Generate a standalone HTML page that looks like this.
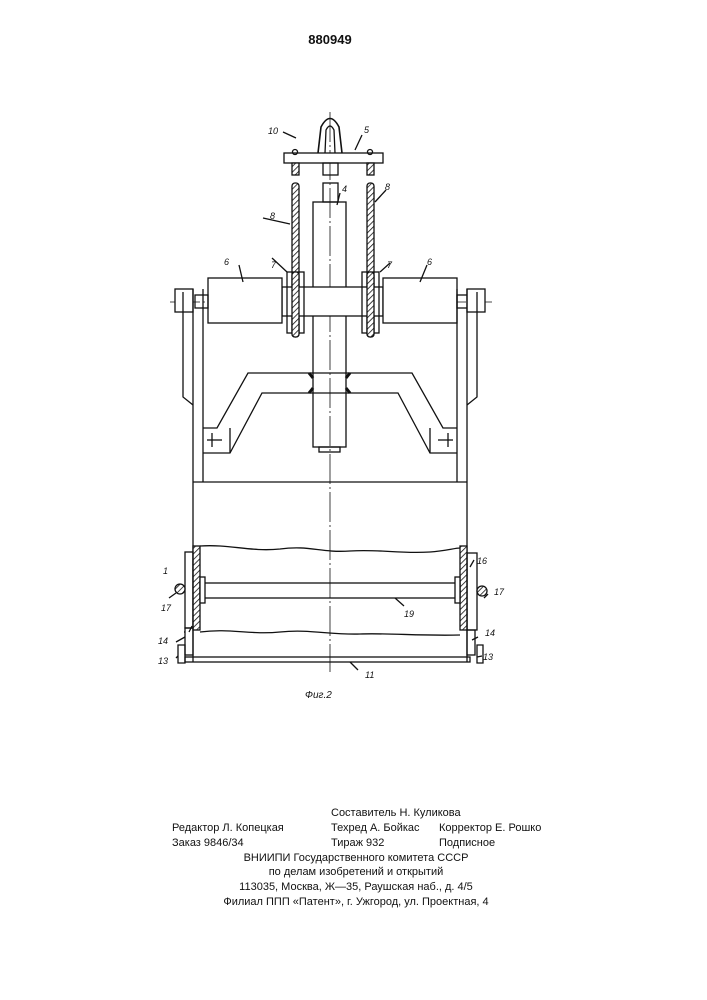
<!DOCTYPE html>
<html><head><meta charset="utf-8"><style>
html,body{margin:0;padding:0;background:#fff;}
svg{display:block}
text{font-family:"Liberation Sans","DejaVu Sans",sans-serif;fill:#111}
</style></head><body>
<svg width="707" height="1000" viewBox="0 0 707 1000" xmlns="http://www.w3.org/2000/svg">
<defs>
<pattern id="h" width="4" height="4" patternUnits="userSpaceOnUse" patternTransform="rotate(45)">
<rect width="4" height="4" fill="#fff"/><line x1="0" y1="0" x2="0" y2="4" stroke="#111" stroke-width="1.6"/></pattern>
</defs>
<text x="330" y="44" font-size="13" font-weight="bold" text-anchor="middle">880949</text>
<g fill="none" stroke="#111" stroke-width="1.3">
<!-- center lines -->
<line x1="330" y1="112" x2="330" y2="672" stroke-width="0.8" stroke-dasharray="30 3 2 3"/>
<line x1="170" y1="302" x2="492" y2="302" stroke-width="0.8" stroke-dasharray="30 3 2 3"/>
<!-- hook -->
<path d="M318,153 L321,127 Q330,110 339,127 L342,153" stroke-width="1.6"/>
<path d="M325,153 L326,130 Q330,122 334,130 L335,153"/>
<rect x="284" y="153" width="99" height="10" fill="#fff"/>
<circle cx="295" cy="152" r="2.5"/><circle cx="370" cy="152" r="2.5"/>
<!-- top rods -->
<rect x="323" y="163" width="15" height="12"/>
<rect x="323" y="183" width="15" height="19"/>
<!-- cables -->
<rect x="292" y="163" width="7" height="12" fill="url(#h)"/>
<rect x="367" y="163" width="7" height="12" fill="url(#h)"/>
<rect x="292" y="183" width="7" height="154" fill="url(#h)" rx="3"/>
<rect x="367" y="183" width="7" height="154" fill="url(#h)" rx="3"/>
<!-- shaft -->
<rect x="313" y="202" width="33" height="245" fill="none"/>
<rect x="319" y="447" width="21" height="5"/>
<!-- axle -->
<rect x="282" y="287" width="101" height="29" fill="#fff"/>
<line x1="313" y1="287" x2="313" y2="316" stroke-width="0" />
<rect x="208" y="278" width="74" height="45" fill="#fff"/>
<rect x="383" y="278" width="74" height="45" fill="#fff"/>
<rect x="287" y="272" width="17" height="61" fill="none"/>
<rect x="362" y="272" width="17" height="61" fill="none"/>
<rect x="292" y="272" width="7" height="65" fill="url(#h)" rx="3"/>
<rect x="367" y="272" width="7" height="65" fill="url(#h)" rx="3"/>
<rect x="195" y="295" width="13" height="13"/>
<rect x="457" y="295" width="13" height="13"/>
<!-- hangers -->
<rect x="175" y="289" width="18" height="23" fill="#fff"/>
<rect x="467" y="289" width="18" height="23" fill="#fff"/>
<path d="M183,292 L183,397 L193,405"/>
<path d="M477,292 L477,397 L467,405"/>
<!-- frame verticals -->
<line x1="193" y1="289" x2="193" y2="662"/>
<line x1="203" y1="289" x2="203" y2="482"/>
<line x1="467" y1="289" x2="467" y2="662"/>
<line x1="457" y1="289" x2="457" y2="482"/>
<line x1="193" y1="482" x2="467" y2="482"/>
<!-- yoke -->
<path d="M203,428 L217,428 L248,373 L412,373 L443,428 L457,428 M457,453 L430,453 L398,393 L262,393 L230,453 L203,453" />
<line x1="230" y1="428" x2="230" y2="453"/>
<line x1="430" y1="428" x2="430" y2="453"/>
<line x1="207" y1="440" x2="222" y2="440"/><line x1="212" y1="433" x2="212" y2="447"/>
<line x1="438" y1="440" x2="453" y2="440"/><line x1="448" y1="433" x2="448" y2="447"/>
<path d="M313,378 L309,373 M346,378 L350,373 M313,388 L309,393 M346,388 L350,393" stroke-width="3"/>
<!-- lower panel -->
<path d="M200,546 C230,544 250,552 280,549 C310,545 320,553 350,551 C380,549 400,554 430,552 C445,551 455,548 460,548"/>
<path d="M200,632 C230,628 250,635 280,632 C310,629 330,635 360,634 C390,633 420,636 460,635"/>
<rect x="193" y="546" width="7" height="84" fill="url(#h)"/>
<rect x="460" y="546" width="7" height="84" fill="url(#h)"/>
<rect x="185" y="552" width="8" height="76"/>
<rect x="185" y="628" width="8" height="27"/>
<rect x="467" y="553" width="10" height="77"/>
<rect x="467" y="630" width="8" height="25"/>
<rect x="200" y="583" width="260" height="15"/>
<rect x="200" y="577" width="5" height="26" fill="#fff"/>
<rect x="455" y="577" width="5" height="26" fill="#fff"/>
<circle cx="180" cy="589" r="5" fill="url(#h)"/>
<circle cx="482" cy="591" r="5" fill="url(#h)"/>
<rect x="185" y="657" width="285" height="5"/>
<path d="M178,645 L185,645 L185,663 L178,663 Z"/>
<path d="M477,645 L483,645 L483,663 L477,663 Z"/>
<!-- leaders -->
<path d="M283,132 L296,138 M362,135 L355,150 M340,193 L337,205 M263,218 L290,224 M386,190 L375,202 M272,258 L287,272 M390,263 L380,272 M239,265 L243,282 M427,265 L420,282"/>
<path d="M169,598 L176,593 M192,626 L189,632 M184,632 L185,632 M176,642 L185,637 M176,658 L178,656 M474,560 L470,567 M484,598 L488,594 M478,637 L472,640 M482,656 L477,657 M404,606 L395,598 M358,670 L350,662"/>
</g>
<g font-size="9" font-style="italic">
<text x="268" y="134">10</text><text x="364" y="133">5</text><text x="342" y="192">4</text>
<text x="270" y="219">8</text><text x="385" y="190">8</text>
<text x="271" y="268">7</text><text x="387" y="268">7</text>
<text x="224" y="265">6</text><text x="427" y="265">6</text>
<text x="163" y="574">1</text><text x="477" y="564">16</text>
<text x="161" y="611">17</text><text x="494" y="595">17</text>
<text x="404" y="617">19</text>
<text x="158" y="644">14</text><text x="485" y="636">14</text>
<text x="158" y="664">13</text><text x="483" y="660">13</text>
<text x="365" y="678">11</text>
<text x="305" y="698" font-size="10">Фиг.2</text>
</g>
<g font-size="11" font-family="Liberation Sans, DejaVu Sans, sans-serif">
<text x="331" y="816">Составитель Н. Куликова</text>
<text x="172" y="831">Редактор Л. Копецкая</text>
<text x="331" y="831">Техред А. Бойкас</text>
<text x="439" y="831">Корректор Е. Рошко</text>
<text x="172" y="846">Заказ 9846/34</text>
<text x="331" y="846">Тираж 932</text>
<text x="439" y="846">Подписное</text>
<text x="356" y="861" text-anchor="middle">ВНИИПИ  Государственного  комитета  СССР</text>
<text x="356" y="875" text-anchor="middle">по  делам  изобретений  и  открытий</text>
<text x="356" y="890" text-anchor="middle">113035,  Москва,  Ж—35,  Раушская  наб.,  д.  4/5</text>
<text x="356" y="905" text-anchor="middle">Филиал  ППП  «Патент»,  г.  Ужгород,  ул.  Проектная,  4</text>
</g>
</svg>
</body></html>
